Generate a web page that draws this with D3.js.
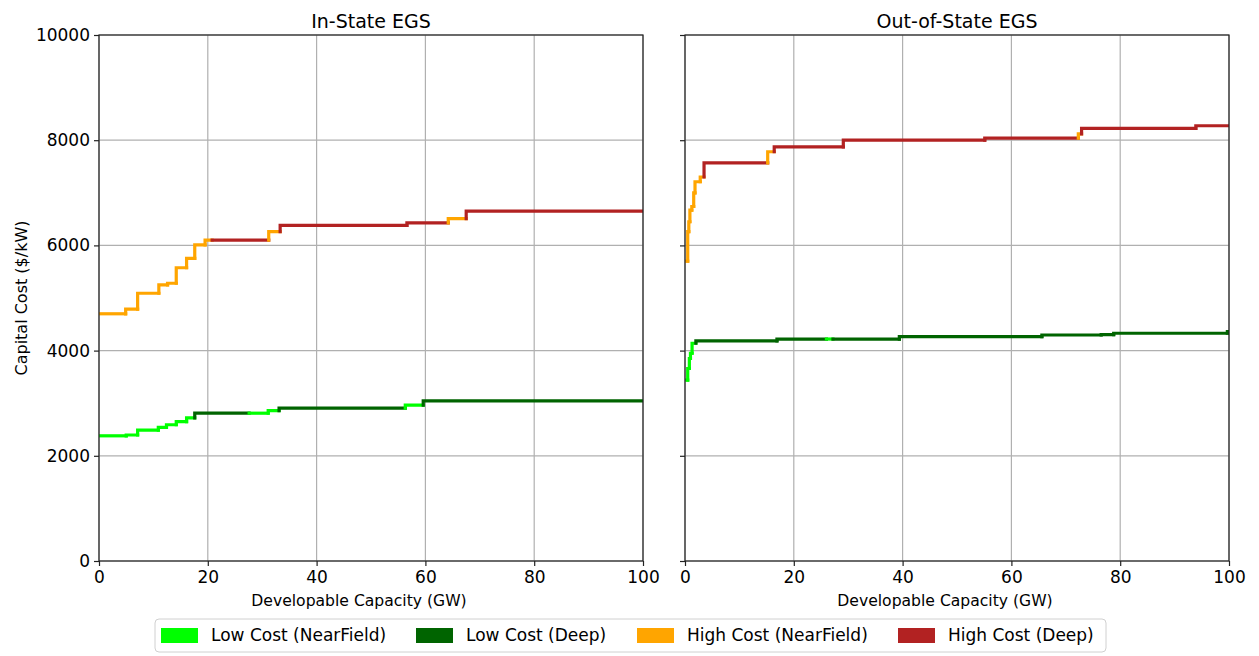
<!DOCTYPE html>
<html>
<head>
<meta charset="utf-8">
<script src="https://cdn.jsdelivr.net/npm/d3@7"></script>
<style>
  body { margin: 0; background: #fff; }
  text { font-family: 'DejaVu Sans', sans-serif; fill: #000; }
</style>
</head>
<body>
<svg id="chart" width="1259" height="656"></svg>
<script>
'use strict'

// axis ticks
const capacityTicks = [0, 20, 40, 60, 80, 100]
const costTicks = [0, 2000, 4000, 6000, 8000, 10000]

// legend / categories
const typeLabels = ['Low Cost (NearField)', 'Low Cost (Deep)', 'High Cost (NearField)', 'High Cost (Deep)']
const typeColors = ['#00ff00', '#006400', '#ffa500', '#b22222']

// In-State: step start capacity (GW), cost ($/kW), category index
const inLowX = [0, 5.0, 7.1, 10.9, 12.4, 14.2, 16.1, 17.6, 27.6, 31.1, 33.1, 56.3, 59.6]
const inLowY = [2380, 2395, 2490, 2540, 2590, 2650, 2720, 2810, 2810, 2860, 2905, 2965, 3045]
const inLowT = [0, 0, 0, 0, 0, 0, 0, 1, 0, 0, 1, 0, 1]

const inHighX = [0, 4.9, 7.1, 11.0, 12.6, 14.2, 16.1, 17.6, 19.5, 20.8, 31.2, 33.3, 56.6, 64.2, 67.5]
const inHighY = [4700, 4790, 5090, 5250, 5280, 5575, 5755, 6010, 6100, 6100, 6260, 6380, 6430, 6510, 6650]
const inHighT = [2, 2, 2, 2, 2, 2, 2, 2, 2, 3, 2, 3, 3, 2, 3]

// Out-of-State
const outLowX = [0.3, 0.5, 0.8, 1.0, 1.3, 2.0, 16.9, 26.0, 27.2, 39.4, 65.6, 76.5, 78.8, 99.7]
const outLowY = [3440, 3660, 3850, 3950, 4140, 4185, 4220, 4220, 4220, 4265, 4297, 4305, 4330, 4360]
const outLowT = [0, 0, 0, 0, 0, 1, 1, 0, 1, 1, 1, 1, 1, 1]

const outHighX = [0.3, 0.5, 0.7, 0.9, 1.25, 1.6, 1.84, 2.8, 3.5, 15.2, 16.4, 29.1, 55.1, 72.3, 72.9, 93.9]
const outHighY = [5700, 6260, 6450, 6670, 6740, 7000, 7210, 7300, 7570, 7780, 7875, 8000, 8040, 8120, 8225, 8275]
const outHighT = [2, 2, 2, 2, 2, 2, 2, 2, 3, 2, 3, 3, 3, 2, 3, 3]

const panels = [
  { title: 'In-State EGS', left: 99, showY: true,
    series: [[inHighX, inHighY, inHighT], [inLowX, inLowY, inLowT]] },
  { title: 'Out-of-State EGS', left: 685, showY: false,
    series: [[outHighX, outHighY, outHighT], [outLowX, outLowY, outLowT]] }
]

const svg = d3.select('#chart')
const marginTop = 35
const width = 544
const height = 526

panels.forEach(function (p, pi) {
  const x = d3.scaleLinear().domain([0, 100]).range([0, width])
  const y = d3.scaleLinear().domain([0, 10000]).range([height, 0])
  const g = svg.append('g').attr('transform', `translate(${p.left},${marginTop})`)

  // grid
  g.append('g').selectAll('line').data(capacityTicks).join('line')
    .attr('x1', d => x(d)).attr('x2', d => x(d))
    .attr('y1', 0).attr('y2', height)
    .attr('stroke', '#b0b0b0').attr('stroke-width', 1.2)
  g.append('g').selectAll('line').data(costTicks).join('line')
    .attr('y1', d => y(d)).attr('y2', d => y(d))
    .attr('x1', 0).attr('x2', width)
    .attr('stroke', '#b0b0b0').attr('stroke-width', 1.2)

  // step lines
  g.append('clipPath').attr('id', 'clip' + pi)
    .append('rect').attr('width', width).attr('height', height)
  const lines = g.append('g').attr('clip-path', `url(#clip${pi})`)
  const line = d3.line().x(d => x(d[0])).y(d => y(d[1]))
  p.series.forEach(function (s) {
    const xs = s[0], ys = s[1], ts = s[2]
    xs.forEach(function (xv, i) {
      const prev = i > 0 ? ys[i - 1] : ys[i]
      const next = i < xs.length - 1 ? xs[i + 1] : 100
      lines.append('path')
        .attr('d', line([[xv, prev], [xv, ys[i]], [next, ys[i]]]))
        .attr('fill', 'none')
        .attr('stroke', typeColors[ts[i]])
        .attr('stroke-width', 3.2)
        .attr('stroke-linecap', 'square')
        .attr('stroke-linejoin', 'miter')
    })
  })

  // axes
  const xAxis = d3.axisBottom(x).tickValues(capacityTicks).tickSize(5).tickPadding(5)
  const yAxis = d3.axisLeft(y).tickValues(costTicks).tickSize(5).tickPadding(4).tickFormat(d3.format('d'))
  if (!p.showY) yAxis.tickFormat('')
  const gx = g.append('g').attr('transform', `translate(0,${height})`).call(xAxis)
  const gy = g.append('g').call(yAxis)
  ;[gx, gy].forEach(function (a) {
    a.select('.domain').remove()
    a.selectAll('line').attr('stroke', '#222').attr('stroke-width', 1.2)
    a.selectAll('text').attr('font-size', 17).attr('font-family', 'DejaVu Sans, sans-serif').attr('fill', '#000')
  })

  g.append('rect').attr('width', width).attr('height', height)
    .attr('fill', 'none').attr('stroke', '#222').attr('stroke-width', 1.2)

  g.append('text').attr('x', width / 2).attr('y', -7)
    .attr('text-anchor', 'middle').attr('font-size', 19).text(p.title)
  g.append('text').attr('x', width / 2 - 12).attr('y', height + 45)
    .attr('text-anchor', 'middle').attr('font-size', 15.6).text('Developable Capacity (GW)')
  if (p.showY) {
    g.append('text').attr('transform', `translate(-72,${height / 2}) rotate(-90)`)
      .attr('text-anchor', 'middle').attr('font-size', 16).text('Capital Cost ($/kW)')
  }
})

// legend
const legend = svg.append('g').attr('transform', 'translate(155,619)')
legend.append('rect').attr('width', 951).attr('height', 33).attr('rx', 4)
  .attr('fill', '#fff').attr('stroke', '#d0d0d0').attr('stroke-width', 1)
const itemX = [6, 261, 482, 743]
typeLabels.forEach(function (lab, i) {
  const it = legend.append('g').attr('transform', `translate(${itemX[i]},0)`)
  it.append('rect').attr('x', 0).attr('y', 9).attr('width', 37).attr('height', 15)
    .attr('fill', typeColors[i])
  it.append('text').attr('x', 50).attr('y', 22).attr('font-size', 17).text(lab)
})
</script>
</body>
</html>
